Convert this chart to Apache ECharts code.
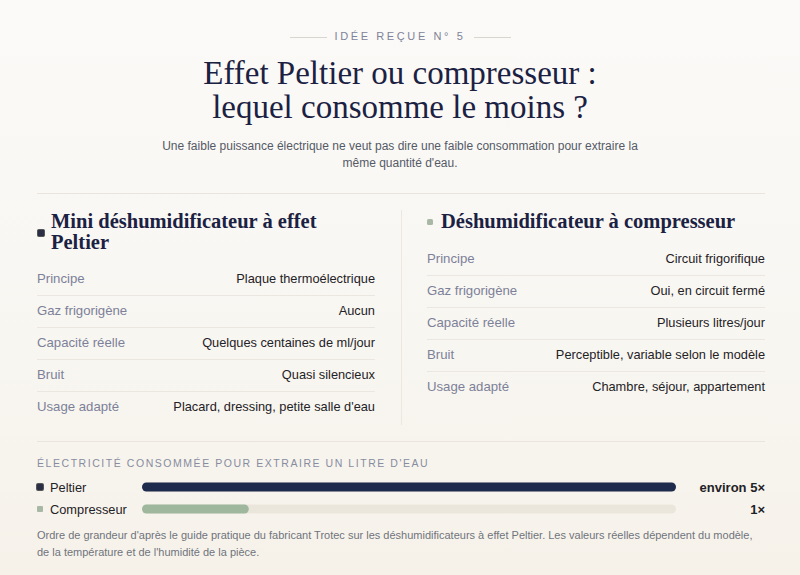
<!DOCTYPE html>
<html><head><meta charset="utf-8">
<script src="https://cdn.jsdelivr.net/npm/echarts@6/dist/echarts.min.js"></script>
<style>
html,body{margin:0;padding:0;width:800px;height:575px;overflow:hidden}
body{background:linear-gradient(180deg,#fbfaf8 0%,#f8f6f1 60%,#f6f2ea 100%);font-family:"Liberation Sans",Arial,sans-serif;position:relative}
.abs{position:absolute}
.kicker{top:30px;left:0;width:800px;text-align:center;font-size:11px;letter-spacing:2.6px;color:#7e8398}
.kline{top:37px;height:1px;background:#d9d6d0;width:37px}
.title{top:56px;left:0;width:800px;text-align:center;font-family:"Liberation Serif",serif;font-size:33px;line-height:34px;color:#1b2142}
.sub{top:138px;left:150px;width:500px;text-align:center;font-size:12px;line-height:17px;color:#555a66}
.hr{height:1px;background:#e9e5de}
.head{font-family:"Liberation Serif",serif;font-weight:bold;font-size:20.5px;line-height:21px;color:#1b2142}
.mk{width:6px;height:6px;border-radius:1.5px}
.row{position:absolute;height:32px;border-bottom:1px solid #ebe7e0;box-sizing:border-box}
.row.last{border-bottom:none}
.row .l{position:absolute;left:0;top:0;line-height:30px;color:#7c8199;font-size:13.2px}
.row .v{position:absolute;right:0;top:0;line-height:30px;color:#1f2226;font-size:12.8px}
.sec{top:457px;left:37px;font-size:10.5px;letter-spacing:1.55px;color:#878c9f}
.foot{top:527px;left:37px;width:740px;font-size:11px;line-height:17px;color:#70747c}
</style></head><body>
<div class="abs kline" style="left:290px"></div>
<div class="abs kline" style="left:474px"></div>
<div class="abs kicker" id="kicker"></div>
<div class="abs title" id="title"></div>
<div class="abs sub" id="sub"></div>
<div class="abs hr" style="top:193px;left:37px;width:728px"></div>
<div class="abs" style="top:210px;left:401px;width:1px;height:215px;background:#ece8e1"></div>
<div class="abs mk" style="left:37px;top:229px;background:#2a2f45;border:1px solid #555"></div>
<div class="abs head" style="left:51px;top:211px;width:320px" id="hL"></div>
<div class="abs mk" style="left:427px;top:219px;background:#a9b8a6"></div>
<div class="abs head" style="left:441px;top:211px;width:340px" id="hR"></div>
<div id="rowsL"></div>
<div id="rowsR"></div>
<div class="abs hr" style="top:441px;left:37px;width:728px"></div>
<div class="abs sec" id="sec"></div>
<div class="abs" id="chart" style="left:0;top:476px;width:800px;height:44px"></div>
<div class="abs foot" id="foot"></div>
<script>
const kickerText = "IDÉE REÇUE N° 5";
const titleLines = ["Effet Peltier ou compresseur :", "lequel consomme le moins ?"];
const subtitleText = "Une faible puissance électrique ne veut pas dire une faible consommation pour extraire la<br>même quantité d'eau.";
const leftHeading = "Mini déshumidificateur à effet<br>Peltier";
const rightHeading = "Déshumidificateur à compresseur";
const rowLabels = ["Principe", "Gaz frigorigène", "Capacité réelle", "Bruit", "Usage adapté"];
const peltierValues = ["Plaque thermoélectrique", "Aucun", "Quelques centaines de ml/jour", "Quasi silencieux", "Placard, dressing, petite salle d'eau"];
const compressorValues = ["Circuit frigorifique", "Oui, en circuit fermé", "Plusieurs litres/jour", "Perceptible, variable selon le modèle", "Chambre, séjour, appartement"];
const sectionLabel = "ÉLECTRICITÉ CONSOMMÉE POUR EXTRAIRE UN LITRE D'EAU";
const categories = ["Peltier", "Compresseur"];
const consumption = [5, 1];
const valueLabels = ["environ 5×", "1×"];
const footnote = "Ordre de grandeur d'après le guide pratique du fabricant Trotec sur les déshumidificateurs à effet Peltier. Les valeurs réelles dépendent du modèle,<br>de la température et de l'humidité de la pièce.";

document.getElementById('kicker').textContent = kickerText;
document.getElementById('title').innerHTML = titleLines.join('<br>');
document.getElementById('sub').innerHTML = subtitleText;
document.getElementById('hL').innerHTML = leftHeading;
document.getElementById('hR').innerHTML = rightHeading;
document.getElementById('sec').textContent = sectionLabel;
document.getElementById('foot').innerHTML = footnote;

function buildRows(id, values, left, width, top) {
  const host = document.getElementById(id);
  rowLabels.forEach((lab, i) => {
    const r = document.createElement('div');
    r.className = 'row' + (i === rowLabels.length - 1 ? ' last' : '');
    r.style.left = left + 'px'; r.style.width = width + 'px'; r.style.top = (top + i * 32) + 'px';
    const l = document.createElement('span'); l.className = 'l'; l.textContent = lab;
    const v = document.createElement('span'); v.className = 'v'; v.textContent = values[i];
    r.appendChild(l); r.appendChild(v); host.appendChild(r);
  });
}
buildRows('rowsL', peltierValues, 37, 338, 264);
buildRows('rowsR', compressorValues, 427, 338, 244);

const barColors = ['#1f2b4d', '#9fb79c'];
const markerColors = ['#2a2f45', '#a9b8a6'];
const chart = echarts.init(document.getElementById('chart'), null, {renderer: 'svg'});
chart.setOption({
  animation: false,
  grid: {left: 142, right: 124, top: 0, bottom: 0},
  xAxis: {type: 'value', min: 0, max: 5, show: false},
  yAxis: [{
    type: 'category', data: categories, inverse: true,
    axisLine: {show: false}, axisTick: {show: false},
    axisLabel: {
      align: 'left', margin: 105,
      formatter: (v, i) => '{m' + i + '|}{t|' + v + '}',
      rich: {
        m0: {width: 6, height: 6, backgroundColor: markerColors[0], borderRadius: 1, borderColor: '#555', borderWidth: 1},
        m1: {width: 6, height: 6, backgroundColor: markerColors[1], borderRadius: 1},
        t: {fontSize: 12.8, color: '#1f2226', padding: [0, 0, 0, 7], fontFamily: 'Liberation Sans'}
      }
    }
  }, {
    type: 'category', data: valueLabels, inverse: true, position: 'right',
    axisLine: {show: false}, axisTick: {show: false},
    axisLabel: {align: 'right', margin: 89, fontSize: 13, fontWeight: 'bold', color: '#1f2226', fontFamily: 'Liberation Sans'}
  }],
  series: [{
    type: 'bar', data: consumption, barWidth: 9,
    showBackground: true,
    backgroundStyle: {color: '#ebe6dc', borderRadius: 4.5},
    itemStyle: {borderRadius: 4.5, color: p => barColors[p.dataIndex]}
  }]
});
</script>
</body></html>
